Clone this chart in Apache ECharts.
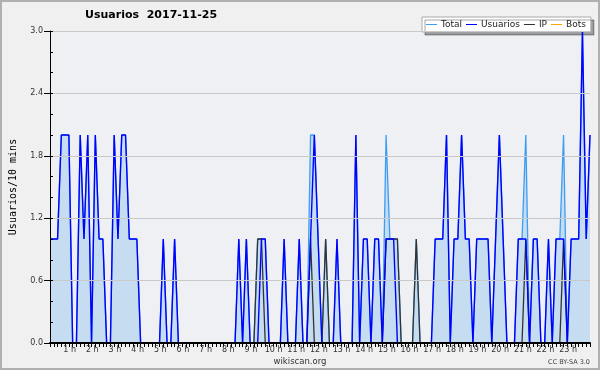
<!DOCTYPE html>
<html>
<head>
<meta charset="utf-8">
<script src="https://cdn.jsdelivr.net/npm/echarts@6/dist/echarts.min.js"></script>
<style>
html,body{margin:0;padding:0;background:#f0f0f0;}
#c{width:600px;height:370px;}
</style>
</head>
<body>
<div id="c"></div>
<script>
// Tick labels for the hours (one per 6 points of 10 minutes)
var hourLabels = ['', '1 h', '2 h', '3 h', '4 h', '5 h', '6 h', '7 h', '8 h', '9 h', '10 h', '11 h',
  '12 h', '13 h', '14 h', '15 h', '16 h', '17 h', '18 h', '19 h', '20 h', '21 h', '22 h', '23 h'];

// 10-minute slots of 2017-11-25
var categories = [];
for (var h = 0; h < 24; h++) {
  for (var m = 0; m < 60; m += 10) {
    categories.push((h < 10 ? '0' : '') + h + ':' + (m < 10 ? '0' : '') + m);
  }
}

// one row per hour (6 values)
var usuarios = [
  1,1,1,2,2,2,
  0,0,2,1,2,0,
  2,1,1,0,0,2,
  1,2,2,1,1,1,
  0,0,0,0,0,0,
  1,0,0,1,0,0,
  0,0,0,0,0,0,
  0,0,0,0,0,0,
  0,0,1,0,1,0,
  0,0,1,1,0,0,
  0,0,1,0,0,0,
  1,0,0,1,2,1,
  0,0,0,0,1,0,
  0,0,0,2,0,1,
  1,0,1,1,0,1,
  1,1,0,0,0,0,
  0,0,0,0,0,0,
  1,1,1,2,0,1,
  1,2,1,1,0,1,
  1,1,1,0,1,2,
  1,0,0,0,1,1,
  1,0,1,1,0,0,
  1,0,1,1,1,0,
  1,1,1,3,1,2
];

var total = [
  1,1,1,2,2,2,
  0,0,2,1,2,0,
  2,1,1,0,0,2,
  1,2,2,1,1,1,
  0,0,0,0,0,0,
  1,0,0,1,0,0,
  0,0,0,0,0,0,
  0,0,0,0,0,0,
  0,0,1,0,1,0,
  0,1,1,1,0,0,
  0,0,1,0,0,0,
  1,0,0,2,2,1,
  0,1,0,0,1,0,
  0,0,0,2,0,1,
  1,0,1,1,0,2,
  1,1,1,0,0,0,
  0,1,0,0,0,0,
  1,1,1,2,0,1,
  1,2,1,1,0,1,
  1,1,1,0,1,2,
  1,0,0,0,1,1,
  2,0,1,1,0,0,
  1,0,1,1,2,0,
  1,1,1,3,1,2
];

var ip = [
  0,0,0,0,0,0,
  0,0,0,0,0,0,
  0,0,0,0,0,0,
  0,0,0,0,0,0,
  0,0,0,0,0,0,
  0,0,0,0,0,0,
  0,0,0,0,0,0,
  0,0,0,0,0,0,
  0,0,0,0,0,0,
  0,1,1,0,0,0,
  0,0,0,0,0,0,
  0,0,0,1,0,0,
  0,1,0,0,0,0,
  0,0,0,0,0,0,
  0,0,0,0,0,1,
  1,1,1,0,0,0,
  0,1,0,0,0,0,
  0,0,0,0,0,0,
  0,0,0,0,0,0,
  0,0,0,0,0,0,
  0,0,0,0,0,0,
  1,0,0,0,0,0,
  0,0,0,0,1,0,
  0,0,0,0,0,0
];

var bots = [
  0,0,0,0,0,0, 0,0,0,0,0,0, 0,0,0,0,0,0, 0,0,0,0,0,0,
  0,0,0,0,0,0, 0,0,0,0,0,0, 0,0,0,0,0,0, 0,0,0,0,0,0,
  0,0,0,0,0,0, 0,0,0,0,0,0, 0,0,0,0,0,0, 0,0,0,0,0,0,
  0,0,0,0,0,0, 0,0,0,0,0,0, 0,0,0,0,0,0, 0,0,0,0,0,0,
  0,0,0,0,0,0, 0,0,0,0,0,0, 0,0,0,0,0,0, 0,0,0,0,0,0,
  0,0,0,0,0,0, 0,0,0,0,0,0, 0,0,0,0,0,0, 0,0,0,0,0,0
];

var FONT = 'DejaVu Sans';
var chart = echarts.init(document.getElementById('c'), null, {renderer: 'canvas'});
chart.setOption({
  animation: false,
  backgroundColor: '#f0f0f0',
  title: {
    text: 'Usuarios  2017-11-25',
    left: 85, top: 10, padding: 0,
    textStyle: {fontFamily: FONT, fontSize: 11, fontWeight: 'bold', color: '#000'}
  },
  legend: {
    data: ['Total', 'Usuarios', 'IP', 'Bots'],
    left: 422, top: 17,
    icon: 'rect', itemWidth: 11, itemHeight: 1, itemGap: 4,
    padding: [3, 5, 3, 4],
    backgroundColor: '#ffffff', borderColor: '#aaaaaa', borderWidth: 1,
    shadowColor: 'rgba(0,0,0,0.35)', shadowOffsetX: 3, shadowOffsetY: 3, shadowBlur: 0,
    textStyle: {fontFamily: FONT, fontSize: 9, color: '#222', padding: [0, 0, 0, -1]}
  },
  grid: {left: 47, right: 10, top: 31, bottom: 27, show: true, backgroundColor: '#eef0f3', borderWidth: 0},
  xAxis: {
    type: 'category', data: categories, boundaryGap: false, z: 5,
    axisLine: {lineStyle: {color: '#000', width: 2}},
    axisTick: {interval: 0, length: 4, lineStyle: {color: '#000'}},
    axisLabel: {
      interval: 0, margin: 3, color: '#333', fontFamily: FONT, fontSize: 8, padding: [0, 6, 0, 0],
      formatter: function (v, i) { return i % 6 === 0 ? hourLabels[i / 6] : ''; }
    },
    splitLine: {show: false}
  },
  yAxis: [{
    type: 'value', min: 0, max: 3, interval: 0.6, z: 5,
    name: 'Usuarios/10 mins', nameLocation: 'middle', nameRotate: 90, nameGap: 32,
    nameTextStyle: {fontFamily: 'DejaVu Sans Mono', fontSize: 10, color: '#000'},
    axisLine: {show: true, lineStyle: {color: '#000'}},
    axisTick: {show: true, length: 6, lineStyle: {color: '#000'}},
    axisLabel: {margin: 7, color: '#333', fontFamily: FONT, fontSize: 8,
      formatter: function (v) { return v.toFixed(1); }},
    splitLine: {show: true, lineStyle: {color: '#c9c9c9', width: 1}}
  }, {
    type: 'value', min: 0, max: 3, interval: 0.2, position: 'left', offset: 0, z: 5,
    axisLine: {show: false},
    axisTick: {show: true, inside: true, length: 3, lineStyle: {color: '#000'}},
    axisLabel: {show: false},
    splitLine: {show: false}
  }],
  series: [
    {name: 'Total', type: 'line', data: total, symbol: 'none', z: 2,
      lineStyle: {color: '#3d9df2', width: 1.3}, itemStyle: {color: '#3d9df2'},
      areaStyle: {color: '#c5dcf1', opacity: 1}},
    {name: 'Bots', type: 'line', data: bots, symbol: 'none', z: 1,
      lineStyle: {color: '#ffa500', width: 1, opacity: 0}, itemStyle: {color: '#ffa500'}},
    {name: 'IP', type: 'line', data: ip, symbol: 'none', z: 3,
      lineStyle: {color: '#333333', width: 1.3}, itemStyle: {color: '#333333'}},
    {name: 'Usuarios', type: 'line', data: usuarios, symbol: 'none', z: 4,
      lineStyle: {color: '#0000ff', width: 1.4}, itemStyle: {color: '#0000ff'}}
  ],
  graphic: [
    {type: 'rect', shape: {x: 1, y: 1, width: 598, height: 368}, silent: true,
      style: {fill: 'none', stroke: '#b0b0b0', lineWidth: 2}},
    {type: 'text', x: 300, y: 362, silent: true,
      style: {text: 'wikiscan.org', fontFamily: FONT, fontSize: 8.5, fill: '#333', align: 'center', verticalAlign: 'middle'}},
    {type: 'text', x: 590, y: 362, silent: true,
      style: {text: 'CC BY-SA 3.0', fontFamily: FONT, fontSize: 6.5, fill: '#444', align: 'right', verticalAlign: 'middle'}}
  ]
});
</script>
</body>
</html>
